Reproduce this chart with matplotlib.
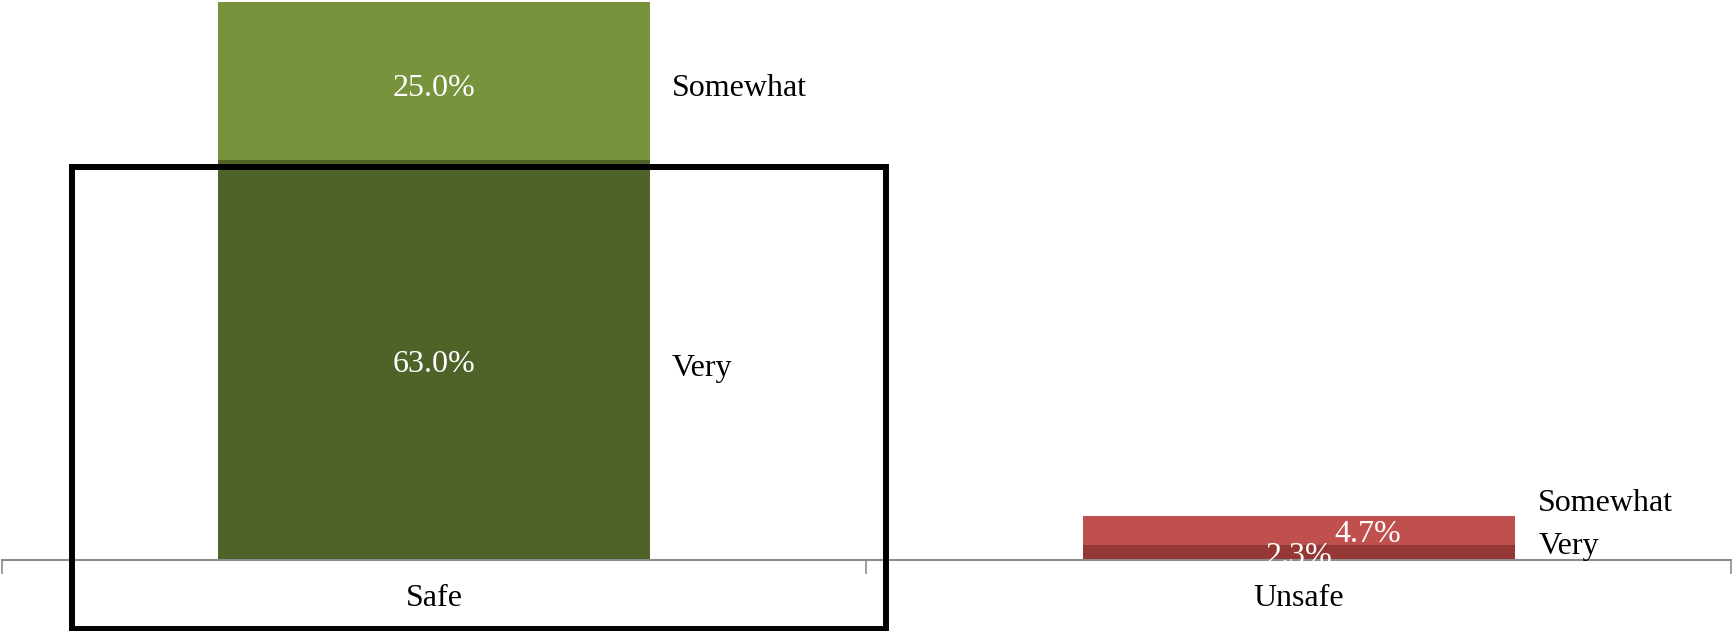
import matplotlib
matplotlib.use('Agg')
import matplotlib.pyplot as plt
from matplotlib.patches import Rectangle

categories = ['Safe', 'Unsafe']
very = [63.0, 2.3]
somewhat = [25.0, 4.7]

very_colors = ['#4F6228', '#953735']
somewhat_colors = ['#77933C', '#C0504D']

plt.rcParams['font.family'] = ['Liberation Serif', 'DejaVu Serif']
fs = 23

fig = plt.figure(figsize=(17.33, 6.31), dpi=100)
ax = fig.add_axes([2 / 1733, 71 / 631, 1729 / 1733, 560 / 631])

x = [0.5, 1.5]
b1 = ax.bar(x, very, 0.5, color=very_colors, zorder=2)
b2 = ax.bar(x, somewhat, 0.5, bottom=very, color=somewhat_colors, zorder=2)

ax.set_xlim(0, 2)
ax.set_ylim(0, 88.3)
for s in ['top', 'right', 'left']:
    ax.spines[s].set_visible(False)
ax.spines['bottom'].set_color('#8c8c8c')
ax.spines['bottom'].set_linewidth(1.5)
ax.spines['bottom'].set_zorder(3)
ax.set_yticks([])
ax.set_xticks([0, 1, 2])
ax.set_xticklabels([])
ax.set_xticks(x, minor=True)
ax.set_xticklabels(categories, minor=True, fontsize=fs)
ax.tick_params(axis='x', which='major', direction='out', length=10, width=1.2, color='#8c8c8c')
ax.tick_params(axis='x', which='minor', length=0, pad=17)

def label(xv, yv, s, color='black', ha='center', clip=False, dy=-5):
    t = ax.annotate(s, (xv, yv), xytext=(0, dy), textcoords='offset points',
                    color=color, fontsize=fs, ha=ha, va='center', zorder=4,
                    annotation_clip=False)
    t.set_clip_on(clip)
    return t

# value labels
lbl_dx = [0.0, 0.08]
for i in range(len(categories)):
    label(x[i], very[i] / 2, '%.1f%%' % very[i], color='white', clip=True, dy=-3)
    label(x[i] + lbl_dx[i], very[i] + somewhat[i] / 2, '%.1f%%' % somewhat[i],
          color='white', dy=-3 if i == 1 else -5)

# series labels right of the bars
label(0.75 + 0.025, very[0] + somewhat[0] / 2, 'Somewhat', ha='left')
label(0.75 + 0.025, very[0] / 2, 'Very', ha='left', dy=-6)
label(1.75 + 0.027, 9.6, 'Somewhat', ha='left', dy=-3)
label(1.75 + 0.027, 2.8, 'Very', ha='left', dy=-3)

# highlight box around the Safe group
box = Rectangle((72 / 1733, 2 / 631), (886 - 72) / 1733, (629 - 167) / 631,
                transform=fig.transFigure, fill=False, edgecolor='black',
                linewidth=4.3, zorder=10)
fig.patches.append(box)

fig.savefig('out.png', dpi=100)
